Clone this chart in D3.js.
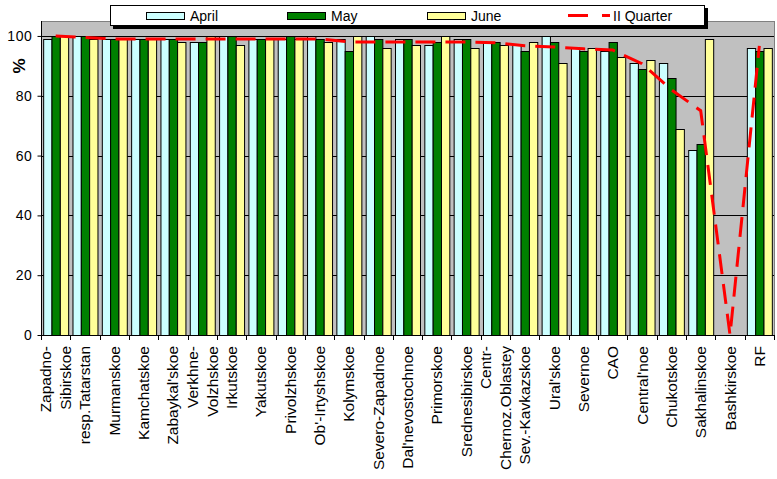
<!DOCTYPE html>
<html>
<head>
<meta charset="utf-8">
<script src="https://cdn.jsdelivr.net/npm/d3@7"></script>
<style>
  html, body { margin: 0; padding: 0; background: #fff; }
  svg { display: block; font-family: "Liberation Sans", Arial, sans-serif; }
</style>
</head>
<body>
<svg id="chart" width="777" height="479"></svg>
<script>
const categories = ["Zapadno-\nSibirskoe","resp.Tatarstan","Murmanskoe","Kamchatskoe","Zabaykal'skoe","Verkhne-\nVolzhskoe","Irkutskoe","Yakutskoe","Privolzhskoe","Ob'-Irtyshskoe","Kolymskoe","Severo-Zapadnoe","Dal'nevostochnoe","Primorskoe","Srednesibirskoe","Centr-\nChernoz.Oblastey","Sev.-Kavkazskoe","Ural'skoe","Severnoe","CAO","Central'noe","Chukotskoe","Sakhalinskoe","Bashkirskoe","RF"];
const april = [99,100,99,99,99,98,100,99,99,100,99,100,99,97,99,98,97,100,96,95,91,91,62,null,96];
const may   = [100,100,99,99,99,98,100,99,100,99,95,99,99,98,99,98,95,98,95,98,89,86,64,null,95];
const june  = [100,99,99,99,98,100,97,99,99,98,100,96,97,100,96,97,98,91,96,93,92,69,99,null,96];
const quarter = [100,99.5,99,99,99,99,99,99,99,99,98,98,98,98,98,97.7,96.7,96.3,95.7,95.3,90.7,82,75,0,96.7];
const seriesNames = ["April","May","June"];
const quarterName = "II Quarter";
const yTicks = [0,20,40,60,80,100];

const seriesData = [april, may, june];
const colors = {April:"#CCFFFF", May:"#008000", June:"#FFFF99"};

const svg = d3.select("#chart");
const L = 41, R = 774, T = 21, B = 335;

const x0 = d3.scaleBand().domain(d3.range(categories.length)).range([L, R])
  .paddingInner(0.148).paddingOuter(0.074);
const x1 = d3.scaleBand().domain(seriesNames).range([0, x0.bandwidth()]);
const y = d3.scaleLinear().domain([0,105]).range([B, T]);

// plot background
svg.append("rect").attr("x", L).attr("y", T).attr("width", R - L).attr("height", B - T)
  .attr("fill", "#C0C0C0").attr("stroke", "#808080").attr("stroke-width", 1)
  .attr("shape-rendering","crispEdges");

// grid lines
svg.append("g").selectAll("line").data(yTicks.filter(d => d > 0)).join("line")
  .attr("x1", L).attr("x2", R)
  .attr("y1", d => Math.round(y(d)) + 0.5).attr("y2", d => Math.round(y(d)) + 0.5)
  .attr("stroke", "#000").attr("stroke-width", 1);

// bars
const groups = svg.append("g").selectAll("g").data(categories.map((c,i)=>i)).join("g")
  .attr("transform", i => `translate(${x0(i)},0)`);
groups.selectAll("rect")
  .data(i => seriesNames.map((s,k) => ({s, v: seriesData[k][i]})).filter(d => d.v != null))
  .join("rect")
  .attr("x", d => x1(d.s) + 0.5)
  .attr("width", x1.bandwidth())
  .attr("y", d => Math.round(y(d.v)) + 0.5)
  .attr("height", d => B - Math.round(y(d.v)))
  .attr("fill", d => colors[d.s])
  .attr("stroke", "#000").attr("stroke-width", 1);

// quarter line
const line = d3.line().x((d,i) => x0(i) + x0.bandwidth()/2).y(d => y(d));
svg.append("path").datum(quarter).attr("d", line)
  .attr("fill", "none").attr("stroke", "#FF0000").attr("stroke-width", 3)
  .attr("stroke-dasharray", "20,10");

// y axis
const yAxis = d3.axisLeft(y).tickValues(yTicks).tickSize(4).tickPadding(5).tickSizeOuter(0);
const ya = svg.append("g").attr("transform", `translate(${L + 0.5},0)`).call(yAxis);
ya.select(".domain").attr("stroke", "#000").attr("d", `M0,${T}V${B}`);
ya.selectAll(".tick line").attr("stroke", "#000");
ya.selectAll(".tick text").attr("font-size", 14).attr("fill", "#000")
  .attr("font-family", "Liberation Sans, Arial, sans-serif").attr("letter-spacing", "0.6px");

// x axis
svg.append("line").attr("x1", L).attr("x2", R).attr("y1", B + 0.5).attr("y2", B + 0.5)
  .attr("stroke", "#000");
const step = x0.step();
svg.append("g").selectAll("line").data(d3.range(categories.length + 1)).join("line")
  .attr("x1", i => Math.round(L + i * step) + 0.5).attr("x2", i => Math.round(L + i * step) + 0.5)
  .attr("y1", B).attr("y2", B + 5).attr("stroke", "#000");

// category labels
const lab = svg.append("g").selectAll("text").data(categories).join("text")
  .attr("transform", (c,i) => `translate(${x0(i) + x0.bandwidth()/2},346) rotate(-90)`)
  .attr("text-anchor", "end").attr("font-size", 15.5).attr("fill", "#000");
lab.each(function(c) {
  const lines = c.split("\n");
  const t = d3.select(this);
  lines.forEach((ln, k) => {
    t.append("tspan").attr("x", 0)
      .attr("dy", k === 0 ? (-(lines.length - 1) * 10 + 5.5) : 20)
      .text(ln);
  });
});

// y title
svg.append("text").attr("transform", "translate(25,66) rotate(-90)")
  .attr("text-anchor", "middle").attr("font-size", 17).attr("font-weight", "bold")
  .text("%");

// legend
const lg = svg.append("g");
lg.append("rect").attr("x", 113).attr("y", 8).attr("width", 595).attr("height", 21).attr("fill", "#000");
lg.append("rect").attr("x", 110.5).attr("y", 5.5).attr("width", 594).attr("height", 20)
  .attr("fill", "#fff").attr("stroke", "#000").attr("stroke-width", 1);
const legendX = [146, 287, 427];
seriesNames.forEach((s, k) => {
  lg.append("rect").attr("x", legendX[k] + 0.5).attr("y", 12.5).attr("width", 38).attr("height", 7)
    .attr("fill", colors[s]).attr("stroke", "#000");
  lg.append("text").attr("x", legendX[k] + 44).attr("y", 21).attr("font-size", 14).text(s);
});
lg.append("line").attr("x1", 568).attr("x2", 610).attr("y1", 15.5).attr("y2", 15.5)
  .attr("stroke", "#FF0000").attr("stroke-width", 3).attr("stroke-dasharray", "20,14");
lg.append("text").attr("x", 613).attr("y", 21).attr("font-size", 14).text(quarterName);
</script>
</body>
</html>
